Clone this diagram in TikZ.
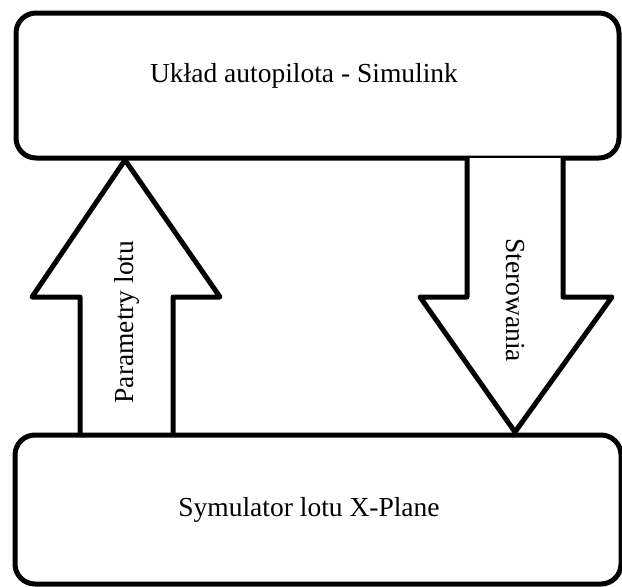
\documentclass[tikz,border=0pt]{standalone}
\usepackage{fontspec}
\setmainfont{Liberation Serif}
\begin{document}
\begin{tikzpicture}[x=1pt,y=-1pt,
  box/.style={draw=black,line width=5pt,rounded corners=20pt,fill=white},
  blockarrow/.style={draw=black,line width=5pt,line join=round,fill=white},
  lbl/.style={font=\fontsize{27.5}{33}\selectfont,inner sep=0pt}]
\useasboundingbox (0,0) rectangle (622,587);
% boxes
\draw[box] (16,13) rectangle (619,158);
\node[lbl] (top) at (304,76) {Układ autopilota - Simulink};
% arrows
\draw[blockarrow] (80,434) -- (80,297) -- (32,297) -- (125,160) -- (220,297) -- (173,297) -- (173,434);
\draw[blockarrow] (467,158) -- (467,297) -- (420,297) -- (515,432) -- (612,297) -- (563,297) -- (563,158);
\draw[box] (15,435) rectangle (621,584);
\node[lbl] (bottom) at (309,510) {Symulator lotu X-Plane};
\node[lbl,rotate=90] (up) at (127,322) {Parametry lotu};
\node[lbl,rotate=-90] (down) at (515,300) {Sterowania};
\end{tikzpicture}
\end{document}
